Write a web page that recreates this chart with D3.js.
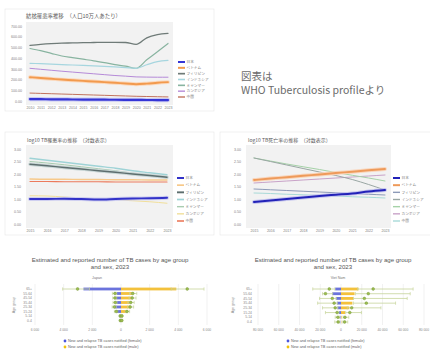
<!DOCTYPE html>
<html><head><meta charset="utf-8">
<script src="https://cdn.jsdelivr.net/npm/d3@7"></script>
<style>
html,body{margin:0;padding:0;background:#fff;}
svg{display:block;font-family:"Noto Sans CJK JP","Noto Sans",sans-serif;}
</style></head><body>
<svg id="c" width="430" height="353"></svg>
<script>
// ---- data ----
const countries = ["日本","ベトナム","フィリピン","インドネシア","ミャンマー","カンボジア","中国"];

// incidence per 100k, 2010-2023
const yearsTop = [2010,2011,2012,2013,2014,2015,2016,2017,2018,2019,2020,2021,2022,2023];
const topTicks = [0,100,200,300,400,500,600,700];
const incJapan  = [18,17,16,15,14,13.5,13,12,11.5,11,10,9.5,9,8.5];
const incVietnam= [222,214,207,200,194,188,182,176,170,164,157,162,170,176];
const incPhil   = [519,528,535,540,542,545,546,547,547,546,528,590,620,632];
const incIndo   = [352,348,344,340,336,332,328,323,318,312,305,338,368,380];
const incMyan   = [490,470,445,420,405,390,375,358,340,325,305,385,460,537];
const incCamb   = [305,296,287,278,270,262,254,246,238,232,225,223,222,222];
const incChina  = [74,71,68,65,62,59,56,53,50,47,44,42,40,38];

// log10 series, 2015-2023
const yearsLog = [2015,2016,2017,2018,2019,2020,2021,2022,2023];
const logTicks = [0,0.5,1,1.5,2,2.5,3];
const logIncJapan  = [1.00,1.00,1.01,1.00,0.98,1.00,1.02,1.03,1.05];
const logIncVietnam= [1.80,1.79,1.79,1.78,1.78,1.77,1.77,1.76,1.76];
const logIncPhil   = [2.39,2.33,2.26,2.20,2.13,2.07,2.00,1.94,1.87];
const logIncIndo   = [2.63,2.55,2.47,2.39,2.31,2.23,2.13,2.05,1.97];
const logIncMyan   = [2.50,2.44,2.37,2.29,2.21,2.13,2.03,1.94,1.84];
const logIncCamb   = [1.13,1.12,1.08,1.04,1.00,0.97,0.93,0.89,0.83];
const logIncChina  = [1.70,1.70,1.69,1.69,1.69,1.68,1.68,1.68,1.68];

const logMortJapan  = [0.88,0.94,1.00,1.06,1.12,1.17,1.22,1.30,1.36];
const logMortVietnam= [1.76,1.82,1.87,1.93,1.98,2.04,2.09,2.15,2.20];
const logMortPhil   = [1.40,1.37,1.34,1.31,1.28,1.25,1.22,1.19,1.16];
const logMortIndo   = [2.64,2.50,2.36,2.22,2.08,1.94,1.78,1.58,1.36];
const logMortMyan   = [2.64,2.52,2.40,2.29,2.18,2.06,1.95,1.84,1.72];
const logMortCamb   = [1.64,1.68,1.72,1.76,1.80,1.84,1.88,1.92,1.96];
const logMortChina  = [1.24,1.22,1.19,1.17,1.14,1.12,1.09,1.07,1.04];

// age / sex notifications and estimates, 2023
const ageGroups = ["65+","55-64","45-54","35-44","25-34","15-24","5-14","0-4"];
const jpNotifF = [2620,300,330,310,420,280,40,30];
const jpNotifM = [3860,760,720,600,650,380,50,40];
const jpEstF   = [3030,420,420,400,460,330,60,50];
const jpEstFLo = [2200,300,300,280,330,230,40,30];
const jpEstFHi = [4070,600,580,560,620,460,90,80];
const jpEstM   = [4620,820,780,680,640,420,70,60];
const jpEstMLo = [3500,600,560,480,460,300,50,40];
const jpEstMHi = [5790,1100,1050,920,880,600,100,90];

const vnNotifF = [5600,8400,5000,4000,3500,2000,500,300];
const vnNotifM = [16900,13100,12000,11000,8000,4000,600,350];
const vnEstF   = [11300,15000,8400,6600,5600,3800,3000,2800];
const vnEstFLo = [6000,8000,4500,3500,3000,2000,1500,1400];
const vnEstFHi = [27200,17800,20700,22500,17800,15000,5600,6000];
const vnEstM   = [31000,26300,22500,24400,10300,8500,3800,3500];
const vnEstMLo = [16000,14000,12000,12000,6000,4500,2000,1800];
const vnEstMHi = [69500,66700,63800,52600,38500,19700,7500,6500];

const svg = d3.select("#c");

function frame(x, y, w, h) {
  svg.append("rect").attr("x", x).attr("y", y).attr("width", w).attr("height", h)
    .attr("fill", "#fff").attr("stroke", "#e6e6e6").attr("stroke-width", 0.6);
}

function lineChart(o) {
  frame(...o.frame);
  const g = svg.append("g");
  g.append("rect").attr("x", o.plot[0]).attr("y", o.plot[1])
    .attr("width", o.plot[2]).attr("height", o.plot[3]).attr("fill", "#f2f2f2");
  g.append("text").attr("x", o.titlePos[0]).attr("y", o.titlePos[1])
    .attr("font-size", o.titleSize).attr("fill", "#595959").text(o.title);

  const x = d3.scalePoint().domain(o.years).range(o.xRange);
  const y = d3.scaleLinear().domain([d3.min(o.yTicks), d3.max(o.yTicks)]).range(o.yRange);

  const ya = g.append("g").attr("transform", `translate(${o.yLabelX},0)`)
    .call(d3.axisLeft(y).tickValues(o.yTicks).tickFormat(d3.format(".2f")).tickSize(0).tickPadding(0));
  ya.select(".domain").remove();
  ya.selectAll("text").attr("font-size", 3.6).attr("fill", "#7f7f7f")
    .attr("font-family", "Liberation Sans, sans-serif");

  const xa = g.append("g").attr("transform", `translate(0,${o.xLabelY})`)
    .call(d3.axisBottom(x).tickSize(0).tickPadding(0).tickFormat(d3.format("d")));
  xa.select(".domain").remove();
  xa.selectAll("text").attr("font-size", 3.6).attr("fill", "#7f7f7f")
    .attr("font-family", "Liberation Sans, sans-serif");

  const line = d3.line().x((d, i) => x(o.years[i])).y(d => y(d)).curve(d3.curveMonotoneX);
  o.series.slice().reverse().forEach(s => {
    if (s.halo) {
      g.append("path").datum(s.values).attr("d", line).attr("fill", "none")
        .attr("stroke", s.halo).attr("stroke-width", s.width + 2).attr("stroke-linecap", "round");
    }
    g.append("path").datum(s.values).attr("d", line).attr("fill", "none")
      .attr("stroke", s.color).attr("stroke-width", s.width).attr("stroke-linecap", "round");
  });

  const ly = d3.scalePoint().domain(o.series.map(s => s.name)).range(o.legendY);
  const lg = g.append("g");
  o.series.forEach(s => {
    lg.append("line").attr("x1", o.legendX).attr("x2", o.legendX + 7)
      .attr("y1", ly(s.name)).attr("y2", ly(s.name))
      .attr("stroke", s.color).attr("stroke-width", Math.min(2, s.width + 0.4));
    lg.append("text").attr("x", o.legendX + 8.5).attr("y", ly(s.name) + 1.3)
      .attr("font-size", 3.7).attr("fill", "#7f7f7f").text(s.name);
  });
}

// ---- top: incidence ----
lineChart({
  frame: [5, 9, 209, 102],
  plot: [26, 22, 147, 83],
  title: "結核罹患率推移　（人口10万人あたり）", titlePos: [26, 18], titleSize: 5.4,
  years: yearsTop, xRange: [30, 168], xLabelY: 106,
  yTicks: topTicks, yRange: [101, 26], yLabelX: 22,
  legendX: 178, legendY: [62, 97],
  series: [
    {name: countries[0], values: incJapan,   color: "#3535d6", width: 2.2, halo: "#c9c9f3"},
    {name: countries[1], values: incVietnam, color: "#f29a4e", width: 1.9, halo: "#fbd9bd"},
    {name: countries[2], values: incPhil,    color: "#6f7b78", width: 1.3},
    {name: countries[3], values: incIndo,    color: "#a6d6df", width: 1.2},
    {name: countries[4], values: incMyan,    color: "#88b4a0", width: 1.2},
    {name: countries[5], values: incCamb,    color: "#b58ad8", width: 1.0},
    {name: countries[6], values: incChina,   color: "#c2735e", width: 1.0}
  ]
});

// ---- middle left: log incidence ----
lineChart({
  frame: [5, 132, 209, 103],
  plot: [26, 145, 147, 83],
  title: "log10 TB罹患率の推移　（対数表示）", titlePos: [27, 142], titleSize: 5,
  years: yearsLog, xRange: [30, 167], xLabelY: 229,
  yTicks: logTicks, yRange: [224, 149], yLabelX: 21,
  legendX: 177, legendY: [178, 221],
  series: [
    {name: countries[0], values: logIncJapan,   color: "#3232c8", width: 2.0, halo: "#cfcff0"},
    {name: countries[1], values: logIncVietnam, color: "#f7c98a", width: 1.3},
    {name: countries[2], values: logIncPhil,    color: "#5d6e6e", width: 1.5, halo: "#c8d6d6"},
    {name: countries[3], values: logIncIndo,    color: "#9fd3d6", width: 1.3},
    {name: countries[4], values: logIncMyan,    color: "#a8ccb0", width: 1.0},
    {name: countries[5], values: logIncCamb,    color: "#f1df9a", width: 1.0},
    {name: countries[6], values: logIncChina,   color: "#ec7a5c", width: 1.2}
  ]
});

// ---- middle right: log mortality ----
lineChart({
  frame: [220, 132, 215, 103],
  plot: [246, 145, 145, 83],
  title: "log10 TB死亡率の推移　（対数表示）", titlePos: [248, 142], titleSize: 5,
  years: yearsLog, xRange: [254, 385], xLabelY: 229,
  yTicks: logTicks, yRange: [224, 149], yLabelX: 241,
  legendX: 393, legendY: [178, 221],
  series: [
    {name: countries[0], values: logMortJapan,   color: "#2222b8", width: 2.0, halo: "#c6c6ee"},
    {name: countries[1], values: logMortVietnam, color: "#ee9a5a", width: 1.8, halo: "#f9d6bc"},
    {name: countries[2], values: logMortPhil,    color: "#8d9ab8", width: 1.0},
    {name: countries[3], values: logMortIndo,    color: "#9aa7a4", width: 1.0},
    {name: countries[4], values: logMortMyan,    color: "#a6d2a8", width: 1.0},
    {name: countries[5], values: logMortCamb,    color: "#c9a3c8", width: 1.0},
    {name: countries[6], values: logMortChina,   color: "#a8dad8", width: 1.0}
  ]
});

// ---- note ----
svg.append("text").attr("x", 241).attr("y", 80).attr("font-size", 10.5).attr("fill", "#6b6b6b").text("図表は");
svg.append("text").attr("x", 241).attr("y", 94).attr("font-size", 10.5).attr("fill", "#6b6b6b").text("WHO Tuberculosis profileより");

// ---- age / sex pyramids ----
function pyramid(o) {
  const g = svg.append("g").attr("font-family", "Liberation Sans, Arial, sans-serif");
  const x = d3.scaleLinear().domain([-o.max, o.max]).range(o.xRange);
  const y = d3.scalePoint().domain(ageGroups).range(o.yRange);
  const ticks = d3.range(-o.max, o.max + 1, o.step);

  g.append("text").attr("x", o.titleX).attr("y", 262).attr("text-anchor", "middle")
    .attr("font-size", 6.1).attr("fill", "#555").text("Estimated and reported number of TB cases by age group");
  g.append("text").attr("x", o.titleX).attr("y", 269).attr("text-anchor", "middle")
    .attr("font-size", 6.1).attr("fill", "#555").text("and sex, 2023");
  g.append("text").attr("x", o.subX).attr("y", 279).attr("text-anchor", "middle")
    .attr("font-size", 3.6).attr("fill", "#777").text(o.country);

  g.selectAll(".grid").data(ticks).join("line")
    .attr("x1", d => x(d)).attr("x2", d => x(d)).attr("y1", 284).attr("y2", 325)
    .attr("stroke", "#e3e3e3").attr("stroke-width", 0.5);
  const fmt = d3.format(",");
  g.selectAll(".tl").data(ticks).join("text")
    .attr("x", d => x(d)).attr("y", 331).attr("text-anchor", "middle")
    .attr("font-size", 3.3).attr("fill", "#888").text(d => fmt(Math.abs(d)).replace(/,/g, " "));

  g.selectAll(".al").data(ageGroups).join("text")
    .attr("x", o.ageX).attr("y", d => y(d) + 1.2).attr("text-anchor", "end")
    .attr("font-size", 3.4).attr("fill", "#888").text(d => d);
  g.append("text").attr("transform", `translate(${o.ageTitleX},305) rotate(-90)`)
    .attr("text-anchor", "middle").attr("font-size", 3.6).attr("fill", "#888").text("Age group");

  const bh = 2.8;
  const err = "#c6d49a";
  ageGroups.forEach((a, i) => {
    const yy = y(a);
    g.append("rect").attr("x", x(-o.nf[i])).attr("y", yy - bh / 2)
      .attr("width", x(0) - x(-o.nf[i])).attr("height", bh).attr("fill", "#6b73dc");
    g.append("rect").attr("x", x(0)).attr("y", yy - bh / 2)
      .attr("width", x(o.nm[i]) - x(0)).attr("height", bh).attr("fill", "#f3c13c");
    [[-o.fLo[i], -o.fHi[i]], [o.mLo[i], o.mHi[i]]].forEach(([lo, hi]) => {
      g.append("line").attr("x1", x(lo)).attr("x2", x(hi)).attr("y1", yy).attr("y2", yy)
        .attr("stroke", err).attr("stroke-width", 0.8);
      [lo, hi].forEach(v => g.append("line").attr("x1", x(v)).attr("x2", x(v))
        .attr("y1", yy - 1.6).attr("y2", yy + 1.6).attr("stroke", err).attr("stroke-width", 0.7));
    });
    [-o.ef[i], o.em[i]].forEach(v => g.append("circle").attr("cx", x(v)).attr("cy", yy).attr("r", 1.4)
      .attr("fill", "#9cbd4f").attr("stroke", "#6f8f35").attr("stroke-width", 0.4));
  });

  const legs = [["#4a55dc", "New and relapse TB cases notified (female)"],
                ["#f0c20a", "New and relapse TB cases notified (male)"]];
  legs.forEach(([c, t], i) => {
    g.append("circle").attr("cx", o.legX).attr("cy", 341 + i * 6).attr("r", 1.4).attr("fill", c);
    g.append("text").attr("x", o.legX + 3).attr("y", 342.3 + i * 6).attr("font-size", 3.8)
      .attr("fill", "#666").text(t);
  });
}

pyramid({
  country: "Japan", max: 6000, step: 2000, xRange: [35, 207], yRange: [289, 320.5],
  titleX: 110, subX: 97, ageX: 32, ageTitleX: 15, legX: 65,
  nf: jpNotifF, nm: jpNotifM, ef: jpEstF, em: jpEstM,
  fLo: jpEstFLo, fHi: jpEstFHi, mLo: jpEstMLo, mHi: jpEstMHi
});

pyramid({
  country: "Viet Nam", max: 80000, step: 20000, xRange: [258, 424], yRange: [289, 322],
  titleX: 333, subX: 338, ageX: 252, ageTitleX: 234, legX: 288,
  nf: vnNotifF, nm: vnNotifM, ef: vnEstF, em: vnEstM,
  fLo: vnEstFLo, fHi: vnEstFHi, mLo: vnEstMLo, mHi: vnEstMHi
});
</script>
</body></html>
